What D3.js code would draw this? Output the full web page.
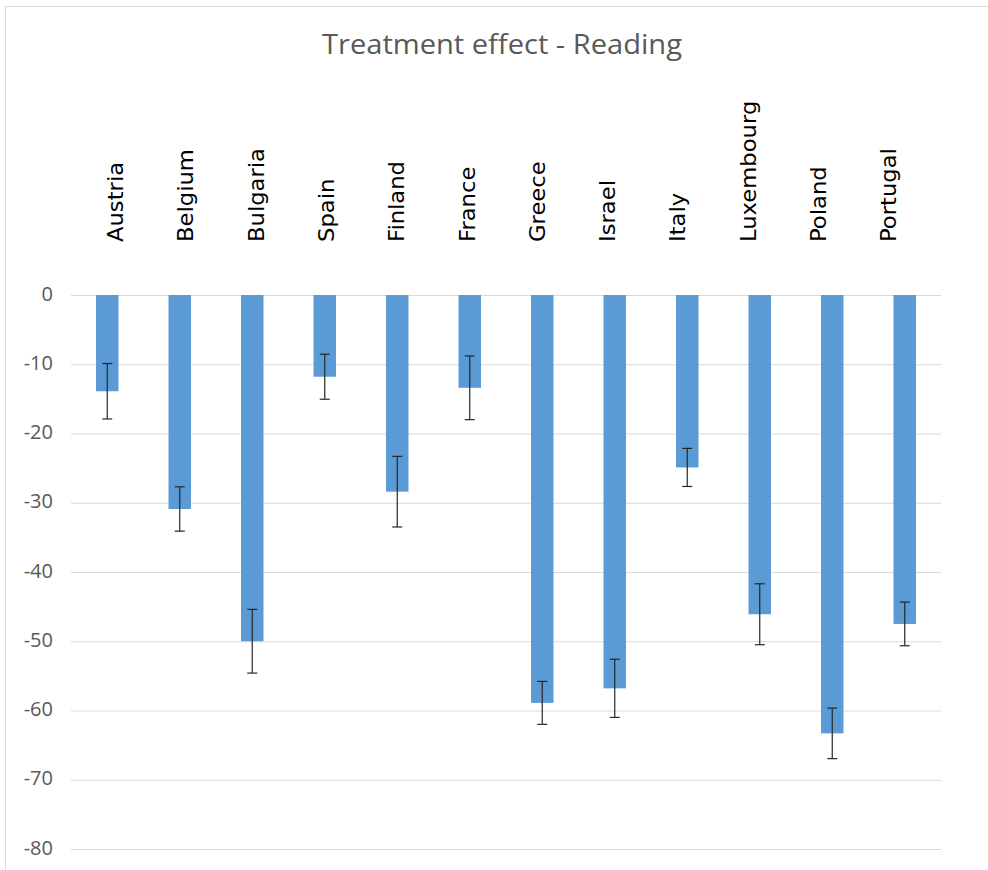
<!DOCTYPE html>
<html>
<head>
<meta charset="utf-8">
<script src="https://cdn.jsdelivr.net/npm/d3@7/dist/d3.min.js"></script>
<style>
  html, body { margin: 0; padding: 0; background: #ffffff; }
  svg { display: block; }
</style>
</head>
<body>
<div id="chart"></div>
<script>
const categories = ["Austria","Belgium","Bulgaria","Spain","Finland","France","Greece","Israel","Italy","Luxembourg","Poland","Portugal"];
const values = [-13.9, -30.9, -50.0, -11.8, -28.4, -13.4, -58.9, -56.8, -24.9, -46.1, -63.3, -47.5];
const errors = [4.0, 3.2, 4.6, 3.25, 5.1, 4.6, 3.1, 4.2, 2.75, 4.4, 3.65, 3.15];
const yTicks = [0, -10, -20, -30, -40, -50, -60, -70, -80];
const title = "Treatment effect - Reading";

const W = 988, H = 870;
const svg = d3.select("#chart").append("svg").attr("width", W).attr("height", H);

// chart frame
svg.append("rect").attr("x", 5.5).attr("y", 6.5).attr("width", W + 10).attr("height", H + 10)
  .attr("fill", "none").attr("stroke", "#d9d9d9").attr("stroke-width", 1);

const x = d3.scaleBand().domain(categories).range([71, 941]).paddingInner(0.69).paddingOuter(0.345);
const xLabel = d3.scalePoint().domain(categories).range([115.5, 888.8]);
const y = d3.scaleLinear().domain([-80, 0]).range([849, 295]);

// title
svg.append("text").attr("x", 502).attr("y", 54).attr("text-anchor", "middle")
  .attr("font-family", "'Open Sans', sans-serif").attr("font-size", 28)
  .attr("fill", "#595959").attr("textLength", 360).attr("lengthAdjust", "spacingAndGlyphs")
  .text(title);

// gridlines + y labels
const yAxis = d3.axisLeft(y).tickValues(yTicks).tickSize(-(941 - 71)).tickPadding(18).tickFormat(d => String(d));
const gy = svg.append("g").attr("transform", "translate(71,0)").call(yAxis);
gy.select(".domain").remove();
gy.selectAll(".tick line").attr("stroke", "#d9d9d9").attr("stroke-width", 1);
gy.selectAll(".tick text").attr("font-family", "'Open Sans', sans-serif").attr("font-size", 20)
  .attr("fill", "#595959").attr("dy", "0.25em");

// bars
svg.append("g").selectAll("rect").data(categories).join("rect")
  .attr("x", d => x(d)).attr("width", x.bandwidth())
  .attr("y", y(0)).attr("height", (d, i) => y(values[i]) - y(0))
  .attr("fill", "#5b9bd5");

// error bars
const eb = svg.append("g").attr("stroke", "#262626").attr("stroke-width", 1.2);
categories.forEach((c, i) => {
  const cx = x(c) + x.bandwidth() / 2;
  const top = y(values[i] + errors[i]), bot = y(values[i] - errors[i]);
  eb.append("line").attr("x1", cx).attr("x2", cx).attr("y1", top).attr("y2", bot);
  eb.append("line").attr("x1", cx - 5).attr("x2", cx + 5).attr("y1", top).attr("y2", top);
  eb.append("line").attr("x1", cx - 5).attr("x2", cx + 5).attr("y1", bot).attr("y2", bot);
});

// category labels (rotated)
svg.append("g").selectAll("text").data(categories).join("text")
  .attr("transform", d => `translate(${xLabel(d)},242) rotate(-90) scale(1.08,1)`)
  .attr("text-anchor", "start").attr("dy", "0.36em")
  .attr("font-family", "'DejaVu Sans', sans-serif").attr("font-size", 21)
  .attr("fill", "#000000")
  .text(d => d);
</script>
</body>
</html>
